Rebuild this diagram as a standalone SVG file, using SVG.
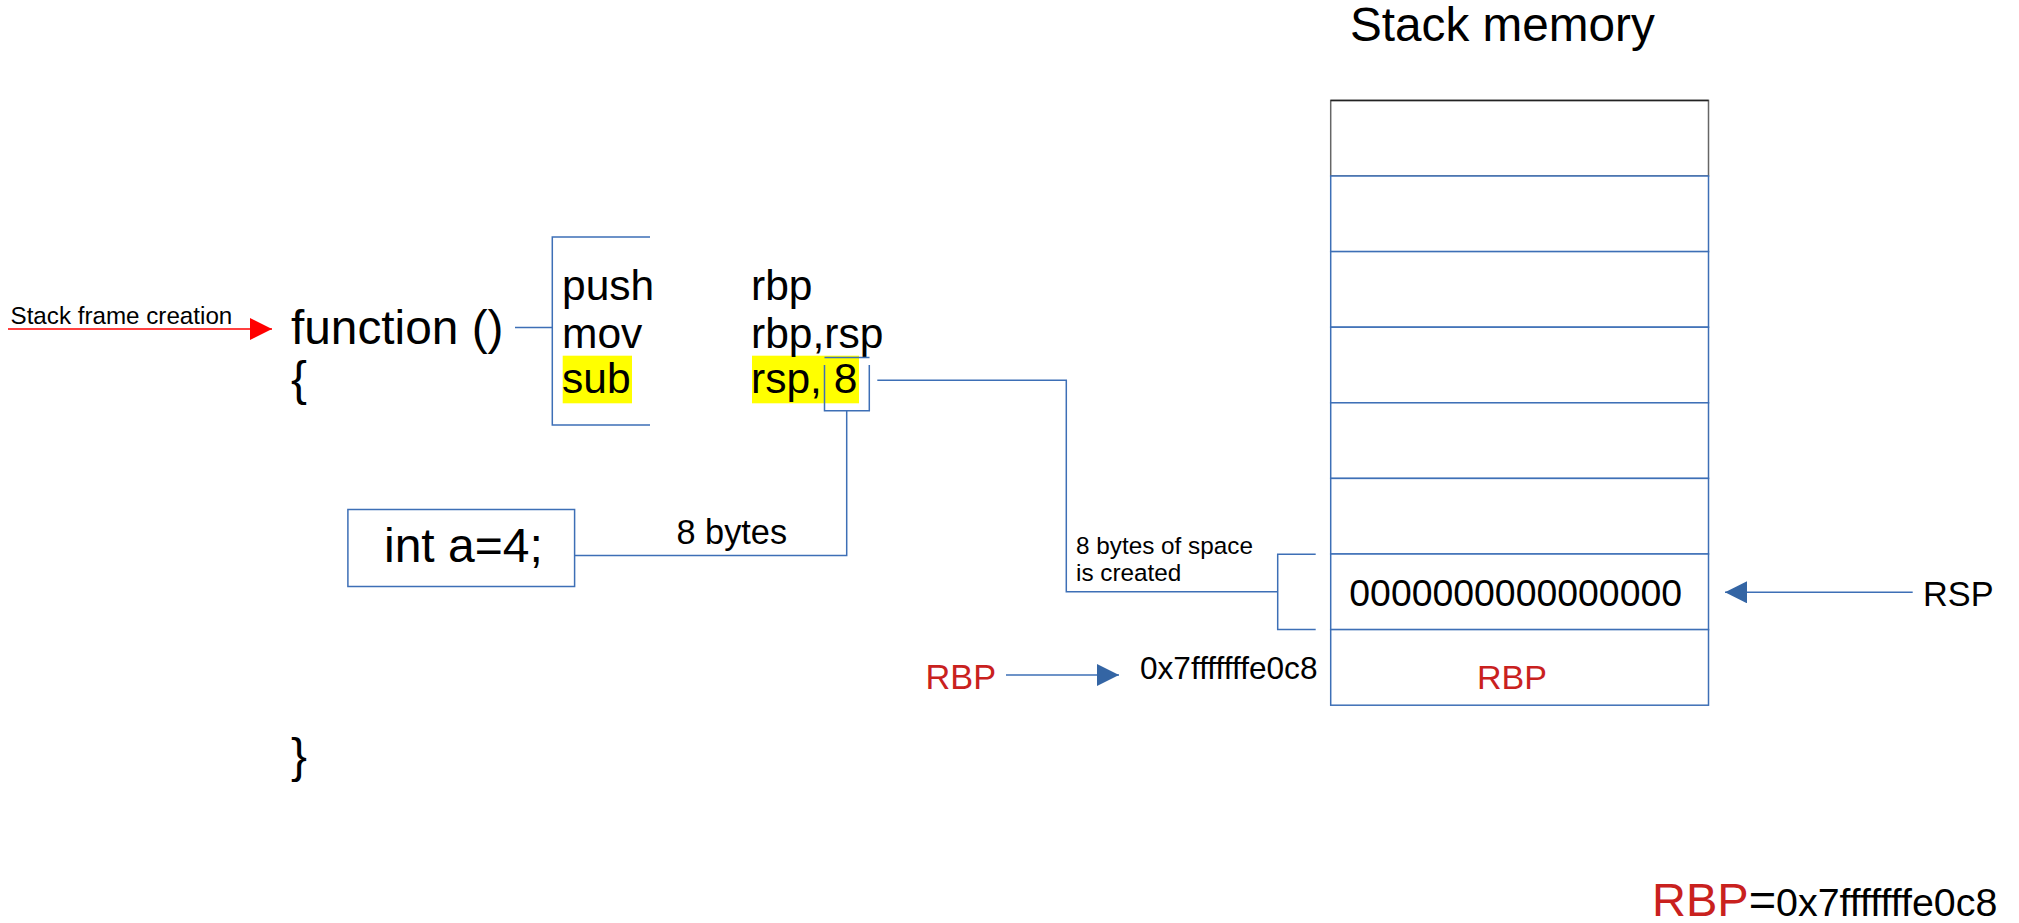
<svg xmlns="http://www.w3.org/2000/svg" width="2019" height="923" viewBox="0 0 2019 923">
<style>
text{font-family:"Liberation Sans",Arial,sans-serif;fill:#000}
.red{fill:#c9211e}
.ln{fill:none;stroke:#3d6fb6;stroke-width:1.5}
.cell{fill:#fff;stroke:#3d6fb6;stroke-width:1.5}
.hl{fill:#ffff00}
</style>
<defs>
<marker id="blueHead" viewBox="0 0 22 22" refX="22" refY="11" markerWidth="22" markerHeight="22" markerUnits="userSpaceOnUse" orient="auto">
<path d="M0,0 L22,11 L0,22 z" fill="#3465a4"/>
</marker>
<marker id="redHead" viewBox="0 0 22 22" refX="22" refY="11" markerWidth="22" markerHeight="22" markerUnits="userSpaceOnUse" orient="auto">
<path d="M0,0 L22,11 L0,22 z" fill="#ff0000"/>
</marker>
</defs>
<rect width="2019" height="923" fill="#fff"/>

<g id="title"><text x="1350" y="41" font-size="47.7">Stack memory</text></g>

<g id="stack-memory">
<rect x="1330.7" y="100.4" width="377.8" height="75.6" fill="#fff" stroke="#666" stroke-width="1.5"/>
<line x1="1330.7" y1="100.4" x2="1708.5" y2="100.4" stroke="#222" stroke-width="1.5"/>
<rect class="cell" x="1330.7" y="176" width="377.8" height="75.6"/>
<rect class="cell" x="1330.7" y="251.6" width="377.8" height="75.6"/>
<rect class="cell" x="1330.7" y="327.2" width="377.8" height="75.6"/>
<rect class="cell" x="1330.7" y="402.8" width="377.8" height="75.6"/>
<rect class="cell" x="1330.7" y="478.4" width="377.8" height="75.6"/>
<rect class="cell" x="1330.7" y="554" width="377.8" height="75.6"/>
<rect class="cell" x="1330.7" y="629.6" width="377.8" height="75.6"/>
<text x="1349.3" y="606" font-size="37.4">0000000000000000</text>
<text class="red" x="1477" y="688.5" font-size="34">RBP</text>
</g>

<g id="stack-frame-label"><text x="10.5" y="323.5" font-size="24.2">Stack frame creation</text></g>

<g id="function-code">
<text x="291" y="343.5" font-size="47.8">function ()</text>
<text x="291" y="395" font-size="47.8">{</text>
<text x="291" y="772" font-size="47.8">}</text>
</g>

<g id="asm-code">
<rect class="hl" x="562.7" y="355.7" width="69.3" height="47.6"/>
<rect class="hl" x="752" y="355.7" width="107" height="47.6"/>
<text x="562" y="300" font-size="42.5">push</text>
<text x="751" y="300" font-size="42.5">rbp</text>
<text x="562" y="347.5" font-size="42.5">mov</text>
<text x="751" y="347.5" font-size="42.5">rbp,rsp</text>
<text x="562" y="393.3" font-size="42.5">sub</text>
<text x="751" y="393.3" font-size="42.5">rsp, 8</text>
</g>

<g id="int-box">
<rect class="cell" x="347.9" y="509.5" width="226.7" height="77"/>
<text x="384" y="562" font-size="48">int a=4;</text>
</g>

<g id="labels">
<text x="676.5" y="544" font-size="34.3">8 bytes</text>
<text x="1076" y="554.3" font-size="24.3">8 bytes of space</text>
<text x="1076" y="581" font-size="24.3">is created</text>
<text class="red" x="925.6" y="689" font-size="34.3">RBP</text>
<text x="1140" y="679.3" font-size="31.6">0x7fffffffe0c8</text>
<text x="1923" y="605.7" font-size="34.3">RSP</text>
<text x="1652" y="916" font-size="47"><tspan class="red">RBP</tspan>=<tspan font-size="39.4">0x7fffffffe0c8</tspan></text>
</g>

<g id="connectors">
<line x1="8" y1="329" x2="272" y2="329" stroke="#ff0000" stroke-width="1.3" marker-end="url(#redHead)"/>
<line class="ln" x1="515" y1="327.5" x2="552.3" y2="327.5"/>
<path class="ln" d="M650,237 H552.3 V425 H650"/>
<path class="ln" d="M824.5,357.5 H869.5"/>
<path class="ln" d="M824.5,365 V410.7 H869.3 V365"/>
<path class="ln" d="M846.7,410.7 V555.5 H574.6"/>
<path class="ln" d="M877.3,380.3 H1066.3 V591.7 H1277.7"/>
<path class="ln" d="M1315.7,554.3 H1277.7 V629.6 H1315.7"/>
<line class="ln" x1="1006" y1="675" x2="1119" y2="675" stroke="#3465a4" marker-end="url(#blueHead)"/>
<line class="ln" x1="1912.7" y1="592.3" x2="1725" y2="592.3" stroke="#3465a4" marker-end="url(#blueHead)"/>
</g>
</svg>
